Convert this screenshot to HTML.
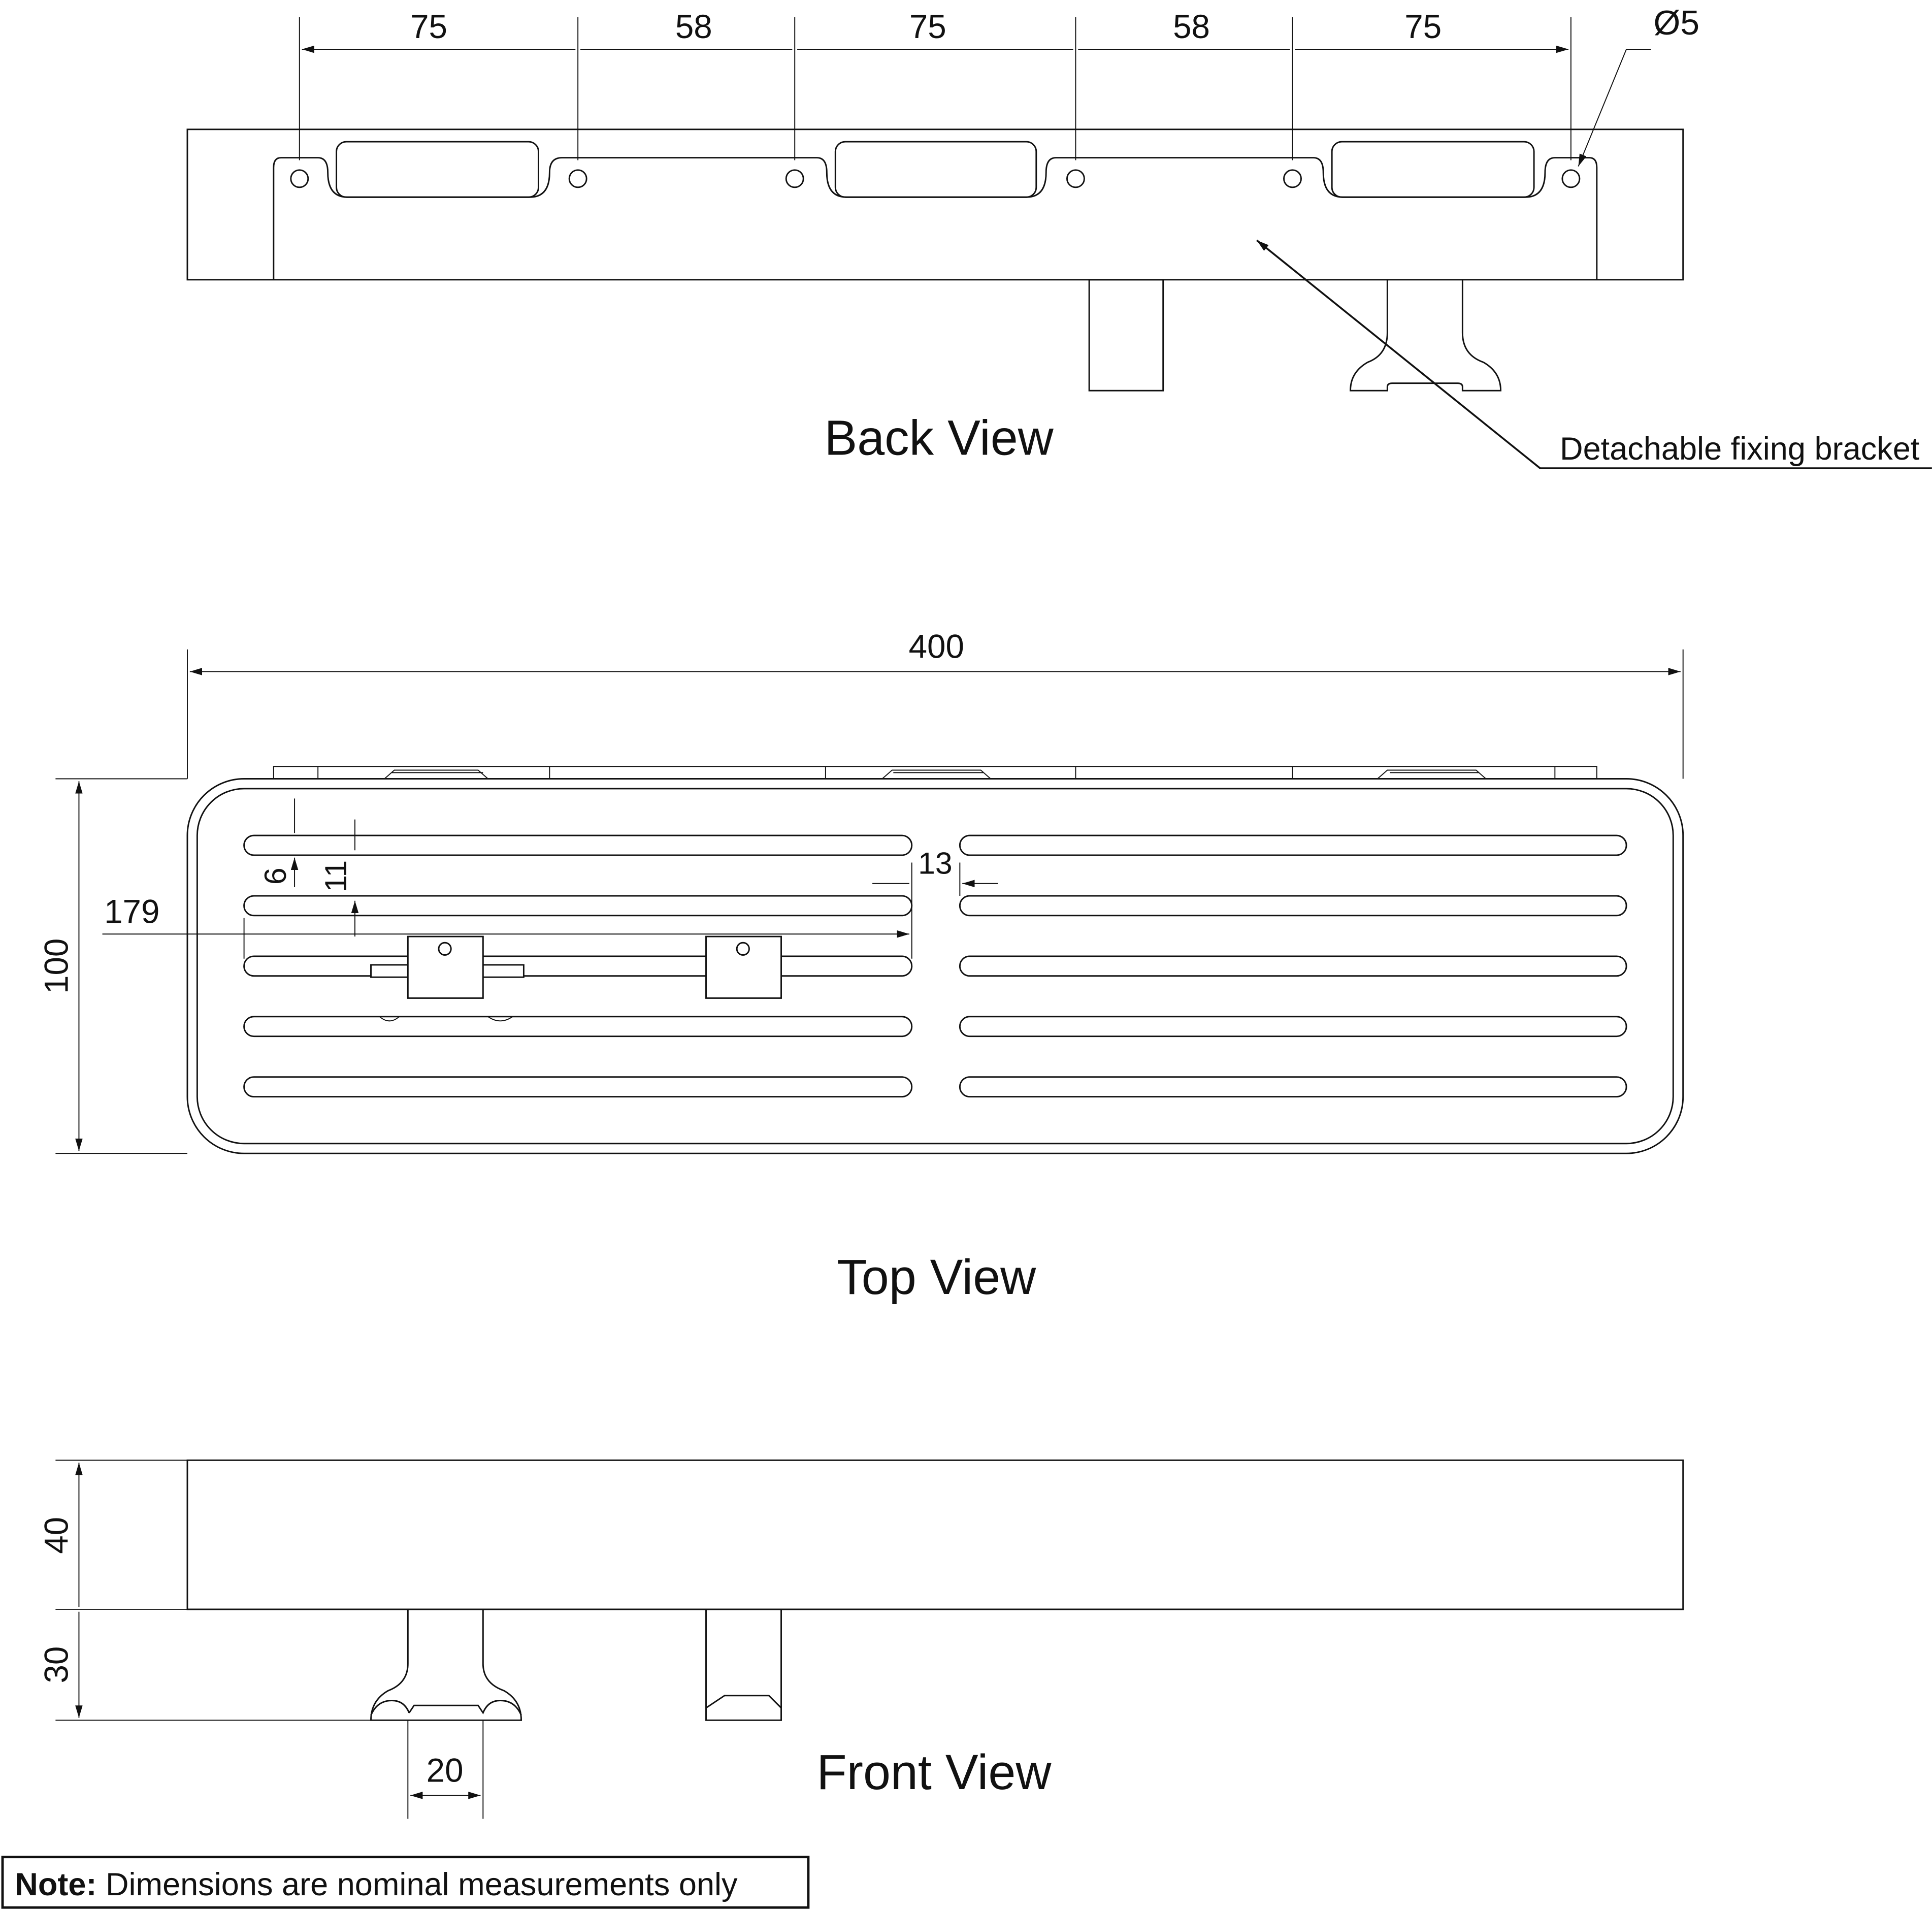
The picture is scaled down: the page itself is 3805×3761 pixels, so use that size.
<!DOCTYPE html>
<html><head><meta charset="utf-8"><style>
html,body{margin:0;padding:0;background:#fff}
svg{display:block}
text{font-family:"Liberation Sans",sans-serif;fill:#111;font-weight:300}
</style></head><body>
<svg width="3805" height="3761" viewBox="0 0 1568 1550" xmlns="http://www.w3.org/2000/svg">
<defs>
<marker id="a" viewBox="0 0 10 6" refX="10" refY="3" markerWidth="10" markerHeight="6" orient="auto-start-reverse" markerUnits="userSpaceOnUse"><path d="M0,0 L10,3 L0,6 z" fill="#111"/></marker>
</defs>
<g fill="none" stroke="#111" stroke-width="1.2">
<!-- BACK VIEW -->
<rect x="152" y="105" width="1214" height="122"/>
<path d="M222,227 V136 Q222,128 228,128 H258 Q266,128 266,140 Q266,160 282,160 H430 Q446,160 446,140 Q446,128 456,128 H663 Q671,128 671,140 Q671,160 687,160 H833 Q849,160 849,140 Q849,128 857,128 H1066 Q1074,128 1074,140 Q1074,160 1090,160 H1238 Q1254,160 1254,140 Q1254,128 1262,128 H1290 Q1296,128 1296,136 V227"/>
<rect x="273" y="115" width="164" height="45" rx="8"/>
<rect x="678" y="115" width="163" height="45" rx="8"/>
<rect x="1081" y="115" width="164" height="45" rx="8"/>
<circle cx="243" cy="145" r="7"/><circle cx="469" cy="145" r="7"/><circle cx="645" cy="145" r="7"/><circle cx="873" cy="145" r="7"/><circle cx="1049" cy="145" r="7"/><circle cx="1275" cy="145" r="7"/>
<rect x="884" y="227" width="60" height="90"/>
<path d="M1126,227 V270 Q1126,288 1110,294 Q1096,302 1096,317 H1126 V314 Q1126,311 1130,311 H1183 Q1187,311 1187,314 V317 H1218 Q1218,302 1204,294 Q1187,288 1187,270 V227"/>
<g stroke-width="0.8">
<path d="M243,130 V14 M469,130 V14 M645,130 V14 M873,130 V14 M1049,130 V14 M1275,130 V14"/>
</g>
<path d="M245,40 H467 M471,40 H643 M647,40 H871 M875,40 H1047 M1051,40 H1273" marker-start="url(#a)" marker-end="url(#a)" stroke-width="0.8"/>
<path d="M1340,40 H1320 L1281,135" marker-end="url(#a)" stroke-width="0.8"/>
<path d="M1020,195 L1250,380 H1568" marker-start="url(#a)" stroke-width="1.5"/>
<!-- TOP VIEW -->
<path d="M152,527 V632 M1366,527 V632" stroke-width="0.8"/>
<path d="M154,545 H1364" marker-start="url(#a)" marker-end="url(#a)" stroke-width="0.8"/>
<path d="M222,632 V622 H1296 V632 M258,622 V632 M318,627 H392 M446,622V632 M670,622V632 M725,627H798 M873,622V632 M1049,622V632 M1128,627H1200 M1262,622V632 M312,632 L320,625 H388 L396,632 M716,632 L724,625 H796 L804,632 M1118,632 L1126,625 H1198 L1206,632" stroke-width="0.8"/>
<rect x="152" y="632" width="1214" height="304" rx="46"/>
<rect x="160" y="640" width="1198" height="288" rx="38"/>
<g>
<rect x="198" y="678" width="542" height="16" rx="8"/><rect x="779" y="678" width="541" height="16" rx="8"/>
<rect x="198" y="727" width="542" height="16" rx="8"/><rect x="779" y="727" width="541" height="16" rx="8"/>
<rect x="198" y="776" width="542" height="16" rx="8"/><rect x="779" y="776" width="541" height="16" rx="8"/>
<rect x="198" y="825" width="542" height="16" rx="8"/><rect x="779" y="825" width="541" height="16" rx="8"/>
<rect x="198" y="874" width="542" height="16" rx="8"/><rect x="779" y="874" width="541" height="16" rx="8"/>
</g>
<rect x="301" y="783" width="124" height="10" fill="#fff"/>
<rect x="331" y="760" width="61" height="50" fill="#fff"/><circle cx="361" cy="770" r="5"/>
<rect x="573" y="760" width="61" height="50" fill="#fff"/><circle cx="603" cy="770" r="5"/>
<path d="M308,825 Q316,832 324,825 M396,825 Q406,832 416,825" stroke-width="0.8"/>
<path d="M45,632 H152 M45,936 H152" stroke-width="0.8"/>
<path d="M64,634 V934" marker-start="url(#a)" marker-end="url(#a)" stroke-width="0.8"/>
<path d="M83,758 H738" marker-end="url(#a)" stroke-width="0.8"/>
<path d="M198,745 V778 M740,700 V778 M779,700 V727" stroke-width="0.8"/>
<path d="M239,648 V676 M239,720 V696" marker-end="url(#a)" stroke-width="0.8"/>
<path d="M288,665 V690 M288,760 V731" marker-end="url(#a)" stroke-width="0.8"/>
<path d="M230,678 H300 M280,743 H300" stroke-width="0.8"/>
<path d="M708,717 H738 M810,717 H781" marker-end="url(#a)" stroke-width="0.8"/>
<!-- FRONT VIEW -->
<rect x="152" y="1185" width="1214" height="121"/>
<path d="M45,1185 H152 M45,1306 H152 M45,1396 H301" stroke-width="0.8"/>
<path d="M64,1187 V1304 M64,1308 V1394" marker-start="url(#a)" marker-end="url(#a)" stroke-width="0.8"/>
<path d="M331,1306 V1350 Q331,1366 315,1372 Q301,1380 301,1396 H423 Q423,1380 409,1372 Q392,1366 392,1350 V1306"/>
<path d="M301,1392 Q306,1380 318,1380 Q328,1380 332,1390 M332,1390 L336,1384 H388 L392,1390 Q396,1380 406,1380 Q418,1380 423,1392"/>
<path d="M573,1306 V1396 H634 V1306 M573,1386 L588,1376 H624 L634,1386"/>
<path d="M331,1396 V1476 M392,1396 V1476" stroke-width="0.8"/>
<path d="M333,1457 H390" marker-start="url(#a)" marker-end="url(#a)" stroke-width="0.8"/>
<rect x="2" y="1507" width="654" height="41" stroke-width="2"/>
</g>
<text x="348" y="31" font-size="27" text-anchor="middle">75</text>
<text x="563" y="31" font-size="27" text-anchor="middle">58</text>
<text x="753" y="31" font-size="27" text-anchor="middle">75</text>
<text x="967" y="31" font-size="27" text-anchor="middle">58</text>
<text x="1155" y="31" font-size="27" text-anchor="middle">75</text>
<text x="1342" y="28" font-size="28">Ø5</text>
<text x="762" y="369" font-size="40" text-anchor="middle">Back View</text>
<text x="1266" y="373" font-size="26">Detachable fixing bracket</text>
<text x="760" y="534" font-size="27" text-anchor="middle">400</text>
<text x="107" y="749" font-size="27" text-anchor="middle">179</text>
<text x="759" y="709" font-size="25" text-anchor="middle">13</text>
<text transform="translate(232,711) rotate(-90)" font-size="25" text-anchor="middle">6</text>
<text transform="translate(281,711) rotate(-90)" font-size="25" text-anchor="middle">11</text>
<text transform="translate(55,784) rotate(-90)" font-size="27" text-anchor="middle">100</text>
<text x="760" y="1050" font-size="40" text-anchor="middle">Top View</text>
<text transform="translate(55,1246) rotate(-90)" font-size="27" text-anchor="middle">40</text>
<text transform="translate(55,1351) rotate(-90)" font-size="27" text-anchor="middle">30</text>
<text x="361" y="1446" font-size="27" text-anchor="middle">20</text>
<text x="758" y="1452" font-size="40" text-anchor="middle">Front View</text>
<text x="12" y="1538" font-size="26"><tspan font-weight="700">Note:</tspan> Dimensions are nominal measurements only</text>
</svg>
</body></html>
